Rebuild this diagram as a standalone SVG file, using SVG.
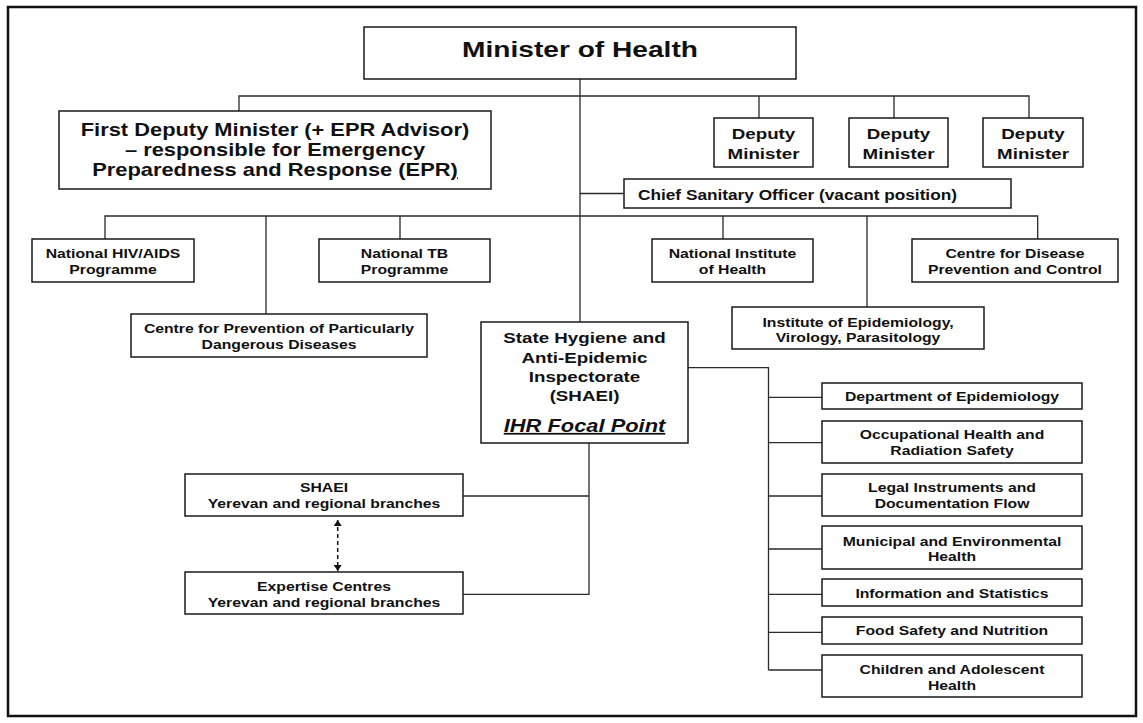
<svg xmlns="http://www.w3.org/2000/svg" width="1143" height="723" viewBox="0 0 1143 723">
<style>
.box{fill:#fff;stroke:#1a1a1a;stroke-width:1.5}
.ln{fill:none;stroke:#2a2a2a;stroke-width:1.3}
.t{font-family:"Liberation Sans",Arial,Helvetica,sans-serif;font-weight:bold;fill:#111;text-anchor:middle}
.s{text-anchor:start}
.f22{font-size:22.5px}
.f17{font-size:17.5px}
.f15{font-size:15px}
.f14{font-size:13.8px}
.f13{font-size:12.6px}
.ihr{font-size:17.5px;font-style:italic;text-decoration:underline}
</style>
<defs>
<marker id="ah" viewBox="0 0 6 8" refX="6" refY="4" markerWidth="6" markerHeight="8" markerUnits="userSpaceOnUse" orient="auto-start-reverse">
<path d="M0,0 L6,4 L0,8 z" fill="#111"/>
</marker>
</defs>
<rect x="8" y="7" width="1128" height="709" fill="#fff" stroke="#111" stroke-width="2.5"/>
<g id="connectors">
<path class="ln" d="M580 79 V330"/>
<path class="ln" d="M239 111 V96 H1029 V118 M759 96 V118 M894 96 V118"/>
<path class="ln" d="M580 193.5 H624"/>
<path class="ln" d="M105 239 V216 H1037.7 V239 M266 216 V314 M400 216 V239 M723 216 V239 M867 216 V307"/>
<path class="ln" d="M688 367.7 H768.5 V670 M768.5 397.3 H822 M768.5 442.7 H822 M768.5 496 H822 M768.5 549 H822 M768.5 594.3 H822 M768.5 632.3 H822 M768.5 670 H822"/>
<path class="ln" d="M589 434 V594.3 H463 M589 496 H463"/>
<path d="M337.7 520 V571" fill="none" stroke="#111" stroke-width="1.5" stroke-dasharray="4 3" marker-start="url(#ah)" marker-end="url(#ah)"/>
</g>
<g id="minister">
<rect class="box" x="364" y="27" width="432" height="52"/>
<text class="t f22" transform="translate(580 0) scale(1.25 1)"><tspan x="0" y="57.5">Minister of Health</tspan></text>
</g>
<g id="first-deputy">
<rect class="box" x="59" y="111" width="432" height="78"/>
<text class="t f17" transform="translate(275 0) scale(1.25 1)"><tspan x="0" y="136.5">First Deputy Minister (+ EPR Advisor)</tspan><tspan x="0" y="156.5">– responsible for Emergency</tspan><tspan x="0" y="176.5">Preparedness and Response (EPR<tspan text-decoration="underline">)</tspan></tspan></text>
</g>
<g id="deputy-1">
<rect class="box" x="714" y="118" width="99" height="49"/>
<text class="t f15" transform="translate(763.5 0) scale(1.25 1)"><tspan x="0" y="139.3">Deputy</tspan><tspan x="0" y="158.7">Minister</tspan></text>
</g>
<g id="deputy-2">
<rect class="box" x="849" y="118" width="99" height="49"/>
<text class="t f15" transform="translate(898.5 0) scale(1.25 1)"><tspan x="0" y="139.3">Deputy</tspan><tspan x="0" y="158.7">Minister</tspan></text>
</g>
<g id="deputy-3">
<rect class="box" x="983" y="118" width="100" height="49"/>
<text class="t f15" transform="translate(1033 0) scale(1.25 1)"><tspan x="0" y="139.3">Deputy</tspan><tspan x="0" y="158.7">Minister</tspan></text>
</g>
<g id="chief-sanitary">
<rect class="box" x="624" y="179" width="387" height="29"/>
<text class="t s f14" transform="translate(638 0) scale(1.25 1)"><tspan x="0" y="200">Chief Sanitary Officer (vacant position)</tspan></text>
</g>
<g id="hiv">
<rect class="box" x="32" y="239" width="162" height="43"/>
<text class="t f13" transform="translate(113 0) scale(1.25 1)"><tspan x="0" y="258">National HIV/AIDS</tspan><tspan x="0" y="274.5">Programme</tspan></text>
</g>
<g id="tb">
<rect class="box" x="319" y="239" width="171" height="43"/>
<text class="t f13" transform="translate(404.5 0) scale(1.25 1)"><tspan x="0" y="258">National TB</tspan><tspan x="0" y="274.5">Programme</tspan></text>
</g>
<g id="nih">
<rect class="box" x="652" y="239" width="161" height="43"/>
<text class="t f13" transform="translate(732.5 0) scale(1.25 1)"><tspan x="0" y="258">National Institute</tspan><tspan x="0" y="274.5">of Health</tspan></text>
</g>
<g id="cdpc">
<rect class="box" x="912" y="239" width="206" height="43"/>
<text class="t f13" transform="translate(1015 0) scale(1.25 1)"><tspan x="0" y="258">Centre for Disease</tspan><tspan x="0" y="274.5">Prevention and Control</tspan></text>
</g>
<g id="cppdd">
<rect class="box" x="131" y="314" width="296" height="43"/>
<text class="t f13" transform="translate(279 0) scale(1.25 1)"><tspan x="0" y="333">Centre for Prevention of Particularly</tspan><tspan x="0" y="349">Dangerous Diseases</tspan></text>
</g>
<g id="ievp">
<rect class="box" x="732" y="307" width="252" height="42"/>
<text class="t f13" transform="translate(858 0) scale(1.25 1)"><tspan x="0" y="326.7">Institute of Epidemiology,</tspan><tspan x="0" y="341.7">Virology, Parasitology</tspan></text>
</g>
<g id="shaei">
<rect class="box" x="481" y="322" width="207" height="121"/>
<text class="t f15" transform="translate(584.5 0) scale(1.25 1)"><tspan x="0" y="342.7">State Hygiene and</tspan><tspan x="0" y="362.7">Anti-Epidemic</tspan><tspan x="0" y="381.7">Inspectorate</tspan><tspan x="0" y="401">(SHAEI)</tspan></text>
<text class="t ihr" transform="translate(584.5 0) scale(1.25 1)"><tspan x="0" y="432">IHR Focal Point</tspan></text>
</g>
<g id="shaei-branches">
<rect class="box" x="185" y="474" width="278" height="42"/>
<text class="t f13" transform="translate(324 0) scale(1.25 1)"><tspan x="0" y="492.3">SHAEI</tspan><tspan x="0" y="507.7">Yerevan and regional branches</tspan></text>
</g>
<g id="expertise-centres">
<rect class="box" x="185" y="572" width="278" height="42"/>
<text class="t f13" transform="translate(324 0) scale(1.25 1)"><tspan x="0" y="591">Expertise Centres</tspan><tspan x="0" y="606.7">Yerevan and regional branches</tspan></text>
</g>
<g id="dept-epidemiology">
<rect class="box" x="822" y="383" width="260" height="26"/>
<text class="t f13" transform="translate(952 0) scale(1.25 1)"><tspan x="0" y="400.7">Department of Epidemiology</tspan></text>
</g>
<g id="occupational">
<rect class="box" x="822" y="421" width="260" height="42"/>
<text class="t f13" transform="translate(952 0) scale(1.25 1)"><tspan x="0" y="439">Occupational Health and</tspan><tspan x="0" y="455">Radiation Safety</tspan></text>
</g>
<g id="legal">
<rect class="box" x="822" y="474" width="260" height="42"/>
<text class="t f13" transform="translate(952 0) scale(1.25 1)"><tspan x="0" y="492.3">Legal Instruments and</tspan><tspan x="0" y="508.3">Documentation Flow</tspan></text>
</g>
<g id="municipal">
<rect class="box" x="822" y="526" width="260" height="43"/>
<text class="t f13" transform="translate(952 0) scale(1.25 1)"><tspan x="0" y="545.7">Municipal and Environmental</tspan><tspan x="0" y="561">Health</tspan></text>
</g>
<g id="information">
<rect class="box" x="822" y="579" width="260" height="27"/>
<text class="t f13" transform="translate(952 0) scale(1.25 1)"><tspan x="0" y="597.7">Information and Statistics</tspan></text>
</g>
<g id="food">
<rect class="box" x="822" y="617" width="260" height="27"/>
<text class="t f13" transform="translate(952 0) scale(1.25 1)"><tspan x="0" y="635">Food Safety and Nutrition</tspan></text>
</g>
<g id="children">
<rect class="box" x="822" y="655" width="260" height="42"/>
<text class="t f13" transform="translate(952 0) scale(1.25 1)"><tspan x="0" y="674.3">Children and Adolescent</tspan><tspan x="0" y="690">Health</tspan></text>
</g>
</svg>
